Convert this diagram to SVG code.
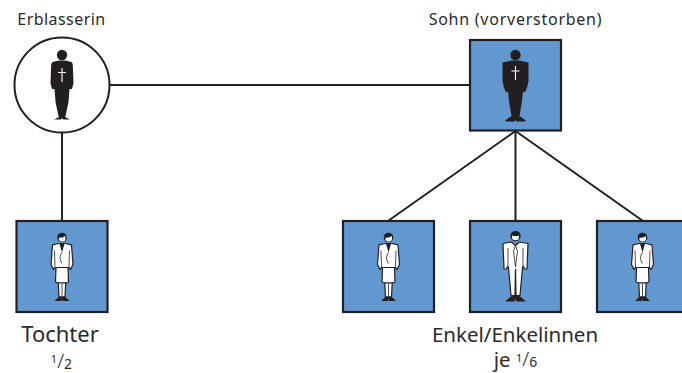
<svg xmlns="http://www.w3.org/2000/svg" width="682" height="373" viewBox="0 0 682 373">
<style>
text{font-family:"Noto Sans","Open Sans","Liberation Sans",sans-serif;fill:#2b2a29;text-anchor:middle}
.s{font-size:16px;letter-spacing:.45px}.b{font-size:20.5px}
.box{fill:#6198d0;stroke:#231f20;stroke-width:2.2}
.con{fill:none;stroke:#231f20;stroke-width:2}
.thin{fill:none;stroke:#231f20;stroke-width:.8}
.k{fill:#231f20}
.w{fill:#fff;stroke:#231f20;stroke-width:1.2;stroke-linejoin:round}
.x{fill:none;stroke:#fff;stroke-width:1.1}
</style>
<defs>
<g id="deadF">
<circle class="k" cx="0" cy="0" r="5.200"/>
<path class="k" d="M-3 5.500L-9.500 7Q-10.500 7.500-10.800 10L-11.500 28L-10 34L-7.500 34L-7 40L-6.500 47L-3.500 61L-3 62L-8 64.500L-1 64.500L0 63L1 64.500L8 64.500L3 62L3.500 61L6.500 47L7 40L7.500 34L10 34L11.500 28L10.800 10Q10.500 7.500 9.500 7L3 5.500Z"/>
<path class="x" d="M0 13V27M-4 17.500H4"/>
</g>
<g id="deadM">
<circle class="k" cx="0" cy="0" r="5.200"/>
<path class="k" d="M-3.500 5.500L-13 7.500L-13 26Q-12 33-9.500 37.500L-7.500 36.500L-6.500 46L-4 61L-10.500 65.500L-9.500 66.500L-1 66.500L0 65L1 66.500L9.500 66.500L10.500 65.500L4 61L6.500 46L7.500 36.500L9.500 37.500Q12 33 13 26L13 7.500L3.500 5.500Z"/>
<path class="x" d="M0 11V25M-4 16H4"/>
</g>
<g id="liveF">
<circle class="k" cx="0" cy="0" r="4.800"/>
<path d="M-3 0Q0 1 3.500 -1.500L3.300 2.800Q0 5.500-3 2.800Z" fill="#fff"/>
<path class="w" d="M-3.500 6L-9.500 7.300L-11 27L-8.500 32L-7 30L7 30L8.500 32L11 27L9.500 7.300L3.500 6Z"/>
<path class="k" d="M-2.700 5.500L0 15L2.700 5.500Z"/>
<path class="w" d="M-6 30L-6.500 44.500L-3.500 45.500L3.500 45.500L6.500 44.500L6 30Z"/>
<path class="w" d="M-3.700 45.500L-3 59.500L3 59.500L3.700 45.500Z"/>
<path class="k" d="M-2.800 59L-7.500 63.500L-0.500 63.500L0 61L0.500 63.500L7.500 63.500L2.800 59Z"/>
<path class="thin" d="M0 15Q-4 20 0 26M-7.500 13L-7 30M7.500 13L7 30M0 46V59"/>
</g>
<g id="liveM">
<circle class="k" cx="0" cy="0" r="5.200"/>
<path d="M-3.500 -0.500Q0 0.500 3.500 -0.500L3.300 3Q0 5.500-3.300 3Z" fill="#fff"/>
<path class="w" d="M-4 6L-12.500 7.500L-11.500 33L-9 33L-8 30.500L-7 31.500L-4.500 59.500L-0.500 59.500L0 33L0.500 59.500L4.500 59.500L7 31.500L8 30.500L9 33L11.500 33L12.500 7.500L4 6L0 9.500Z"/>
<path class="thin" d="M0 9.500L-2 15L0 31L2 15ZM-7.500 12V31M7.500 12V31"/>
<path class="k" d="M-3.500 59.500L-10.500 65.500L-1 65.500L0 63L1 65.500L10.500 65.500L3.500 59.500Z"/>
</g>
</defs>
<g id="connectors">
<path class="con" d="M109 85H470M62 132V221M515.500 131V221M515.500 131L388 221M515.500 131L643 221"/>
</g>
<g id="erblasserin">
<text class="s" x="61.500" y="24.500">Erblasserin</text>
<circle cx="62" cy="85" r="47.500" fill="#fff" stroke="#231f20" stroke-width="2"/>
<use href="#deadF" x="62" y="55"/>
</g>
<g id="sohn">
<text class="s" x="515.500" y="24.500" style="letter-spacing:.75px">Sohn (vorverstorben)</text>
<rect class="box" x="470" y="40" width="91" height="90.500"/>
<use href="#deadM" x="515.500" y="55"/>
</g>
<g id="tochter">
<rect class="box" x="16.500" y="221" width="91" height="91"/>
<use href="#liveF" x="62" y="237.500"/>
<text class="b" x="60" y="341.500" style="font-size:22px">Tochter</text>
<text x="61.500" y="363" font-size="11">1<tspan dy="5" font-size="20" font-weight="300">/</tspan><tspan dy="1" font-size="14">2</tspan></text>
</g>
<g id="enkel1">
<rect class="box" x="343" y="221" width="91" height="91"/>
<use href="#liveF" x="388.500" y="237.500"/>
</g>
<g id="enkel2">
<rect class="box" x="470" y="221" width="91" height="91"/>
<use href="#liveM" x="515.500" y="236"/>
</g>
<g id="enkel3">
<rect class="box" x="597" y="221" width="91" height="91"/>
<use href="#liveF" x="642.500" y="237.500"/>
</g>
<g id="enkel-label">
<text class="b" x="515" y="341.500">Enkel/Enkelinnen</text>
<text class="b" x="515.500" y="367">je <tspan dy="-5" font-size="11">1</tspan><tspan dy="4" font-size="20" font-weight="300">/</tspan><tspan dy="1" font-size="14">6</tspan></text>
</g>
</svg>
